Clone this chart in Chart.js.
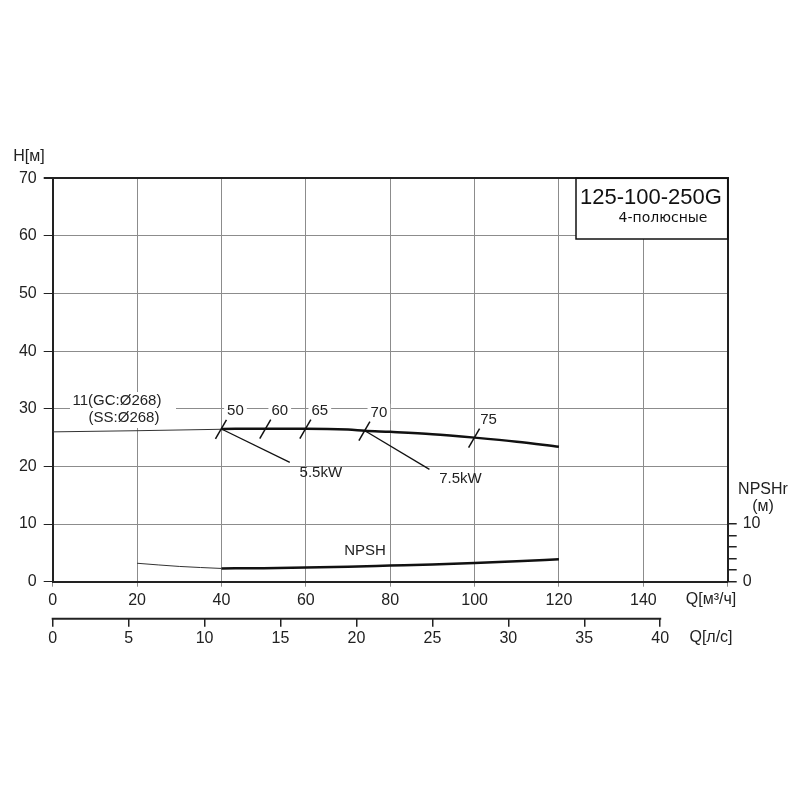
<!DOCTYPE html>
<html>
<head>
<meta charset="utf-8">
<script src="https://cdn.jsdelivr.net/npm/chart.js@4.4.0/dist/chart.umd.min.js"></script>
<style>
  body { margin: 0; background: #fff; }
  #wrap { width: 800px; height: 800px; }
</style>
</head>
<body>
<div id="wrap"><canvas id="chart"></canvas></div>
<script>
// head curve, thin part (outside operating range) and thick part
var headThinQ = [0, 20, 40];
var headThinH = [26.0, 26.2, 26.45];
var headQ = [40, 50, 60, 70, 74, 80, 90, 100, 110, 120];
var headH = [26.5, 26.55, 26.55, 26.4, 26.2, 26.0, 25.6, 25.0, 24.3, 23.4];

// NPSH curve
var npshThinQ = [20, 30, 40];
var npshThinH = [3.2, 2.65, 2.3];
var npshQ = [40, 50, 60, 70, 80, 90, 100, 110, 120];
var npshH = [2.3, 2.35, 2.45, 2.6, 2.8, 3.0, 3.25, 3.55, 3.9];

// efficiency marks on the head curve
var effQ = [40, 50.5, 60, 74, 100];
var effH = [26.5, 26.55, 26.55, 26.2, 25.0];
var effLabels = ['50', '60', '65', '70', '75'];

// motor power leader lines
var powerQ = [40, 74];
var powerH = [26.5, 26.2];
var powerEndQ = [56.2, 89.3];
var powerEndH = [20.7, 19.5];
var powerLabels = ['5.5kW', '7.5kW'];

var FONT = '"Liberation Sans", Arial, sans-serif';
var GRID = '#8c8c8c';

function pts(qs, hs) {
  return qs.map(function (q, i) { return { x: q, y: hs[i] }; });
}

var datasets = [
  { data: pts(headThinQ, headThinH), borderColor: '#333', borderWidth: 1, cubicInterpolationMode: 'monotone' },
  { data: pts(headQ, headH), borderColor: '#111', borderWidth: 2.5, cubicInterpolationMode: 'monotone' },
  { data: pts(npshThinQ, npshThinH), borderColor: '#333', borderWidth: 1, cubicInterpolationMode: 'monotone' },
  { data: pts(npshQ, npshH), borderColor: '#111', borderWidth: 2.5, cubicInterpolationMode: 'monotone' }
];
powerQ.forEach(function (q, i) {
  datasets.push({ data: [{ x: q, y: powerH[i] }, { x: powerEndQ[i], y: powerEndH[i] }], borderColor: '#111', borderWidth: 1.3 });
});
datasets.forEach(function (d) { d.pointRadius = 0; d.fill = false; d.xAxisID = 'x'; d.yAxisID = 'y'; });

var annotations = {
  id: 'annotations',
  afterDatasetsDraw: function (chart) {
    var ctx = chart.ctx, x = chart.scales.x, y = chart.scales.y, x2 = chart.scales.x2;
    ctx.save();
    ctx.textAlign = 'center';
    ctx.textBaseline = 'middle';
    ctx.fillStyle = '#222';
    ctx.strokeStyle = '#111';

    // efficiency ticks and labels
    effQ.forEach(function (q, i) {
      var px = x.getPixelForValue(q), py = y.getPixelForValue(effH[i]);
      ctx.lineWidth = 1.5;
      ctx.beginPath();
      ctx.moveTo(px - 6, py + 10);
      ctx.lineTo(px + 5, py - 9);
      ctx.stroke();
      ctx.font = '15px ' + FONT;
      var w = ctx.measureText(effLabels[i]).width;
      ctx.fillStyle = '#fff';
      ctx.fillRect(px + 14 - w / 2 - 3, py - 27, w + 6, 17);
      ctx.fillStyle = '#222';
      ctx.fillText(effLabels[i], px + 14, py - 18);
    });

    // power labels
    ctx.font = '15px ' + FONT;
    powerLabels.forEach(function (t, i) {
      ctx.fillText(t, x.getPixelForValue(powerEndQ[i]) + 31, y.getPixelForValue(powerEndH[i]) + 10);
    });

    // impeller label
    ctx.fillStyle = '#fff';
    ctx.fillRect(70, 392, 106, 36);
    ctx.fillStyle = '#222';
    ctx.fillText('11(GC:Ø268)', 117, 401);
    ctx.fillText('(SS:Ø268)', 124, 418);
    ctx.fillText('NPSH', 365, 551);

    // axis titles
    ctx.font = '16px ' + FONT;
    ctx.fillText('H[м]', 29, 157);
    ctx.fillText('NPSHr', 763, 490);
    ctx.fillText('(м)', 763, 507);
    ctx.fillText('Q[м³/ч]', 711, 600);
    ctx.fillText('Q[л/с]', 711, 638);

    // l/s axis line
    ctx.strokeStyle = '#222';
    ctx.lineWidth = 2;
    ctx.beginPath();
    ctx.moveTo(x2.getPixelForValue(0) - 1, x2.top);
    ctx.lineTo(x2.getPixelForValue(40) + 1, x2.top);
    ctx.stroke();

    // model box
    var bl = 576, bt = y.getPixelForValue(70), br = x.right, bb = 239;
    ctx.fillStyle = '#fff';
    ctx.fillRect(bl, bt, br - bl, bb - bt);
    ctx.lineWidth = 1.5;
    ctx.strokeStyle = '#111';
    ctx.strokeRect(bl, bt, br - bl, bb - bt);
    ctx.fillStyle = '#111';
    ctx.font = '22px ' + FONT;
    ctx.fillText('125-100-250G', 651, 198);
    ctx.font = '14px "DejaVu Sans", ' + FONT;
    ctx.fillText('4-полюсные', 663, 218);
    ctx.restore();
  }
};

new Chart(document.getElementById('chart'), {
  type: 'line',
  data: { datasets: datasets },
  plugins: [annotations],
  options: {
    responsive: true,
    maintainAspectRatio: false,
    animation: false,
    layout: { padding: { top: 178.3, left: 0, right: 32.3, bottom: 131.3 } },
    plugins: { legend: { display: false }, tooltip: { enabled: false } },
    scales: {
      x: {
        type: 'linear', position: 'bottom', min: 0, max: 160,
        ticks: {
          stepSize: 20, padding: 4, color: '#222', font: { size: 16, family: FONT },
          callback: function (v) { return v < 160 ? v : ''; }
        },
        grid: { color: GRID, tickLength: 5 },
        border: { color: '#222', width: 2 },
        afterFit: function (s) { s.height = 37; }
      },
      x2: {
        type: 'linear', position: 'bottom', min: 0, max: 160 / 3.6,
        afterBuildTicks: function (s) {
          s.ticks = [0, 5, 10, 15, 20, 25, 30, 35, 40].map(function (v) { return { value: v }; });
        },
        ticks: { padding: 2, color: '#222', font: { size: 16, family: FONT } },
        grid: { drawOnChartArea: false, tickLength: 8, color: '#222', lineWidth: 1.5 },
        border: { display: false },
        afterFit: function (s) { s.height = 50; }
      },
      y: {
        type: 'linear', position: 'left', min: 0, max: 70,
        ticks: { stepSize: 10, padding: 7, color: '#222', font: { size: 16, family: FONT } },
        grid: {
          tickLength: 9, tickColor: '#222',
          color: function (c) { return c.tick && c.tick.value === 70 ? '#222' : GRID; },
          lineWidth: function (c) { return c.tick && c.tick.value === 70 ? 2 : 1; }
        },
        border: { color: '#222', width: 2 },
        afterFit: function (s) { s.width = 52.7; }
      },
      y2: {
        type: 'linear', position: 'right', min: 0, max: 70,
        afterBuildTicks: function (s) {
          s.ticks = [0, 2, 4, 6, 8, 10].map(function (v) { return { value: v }; });
        },
        ticks: {
          padding: 6, color: '#222', font: { size: 16, family: FONT },
          callback: function (v) { return v === 0 || v === 10 ? v : ''; }
        },
        grid: { drawOnChartArea: false, tickLength: 9, color: '#222', lineWidth: 1.5 },
        border: { color: '#222', width: 2 },
        afterFit: function (s) { s.width = 40; }
      }
    }
  }
});
</script>
</body>
</html>
